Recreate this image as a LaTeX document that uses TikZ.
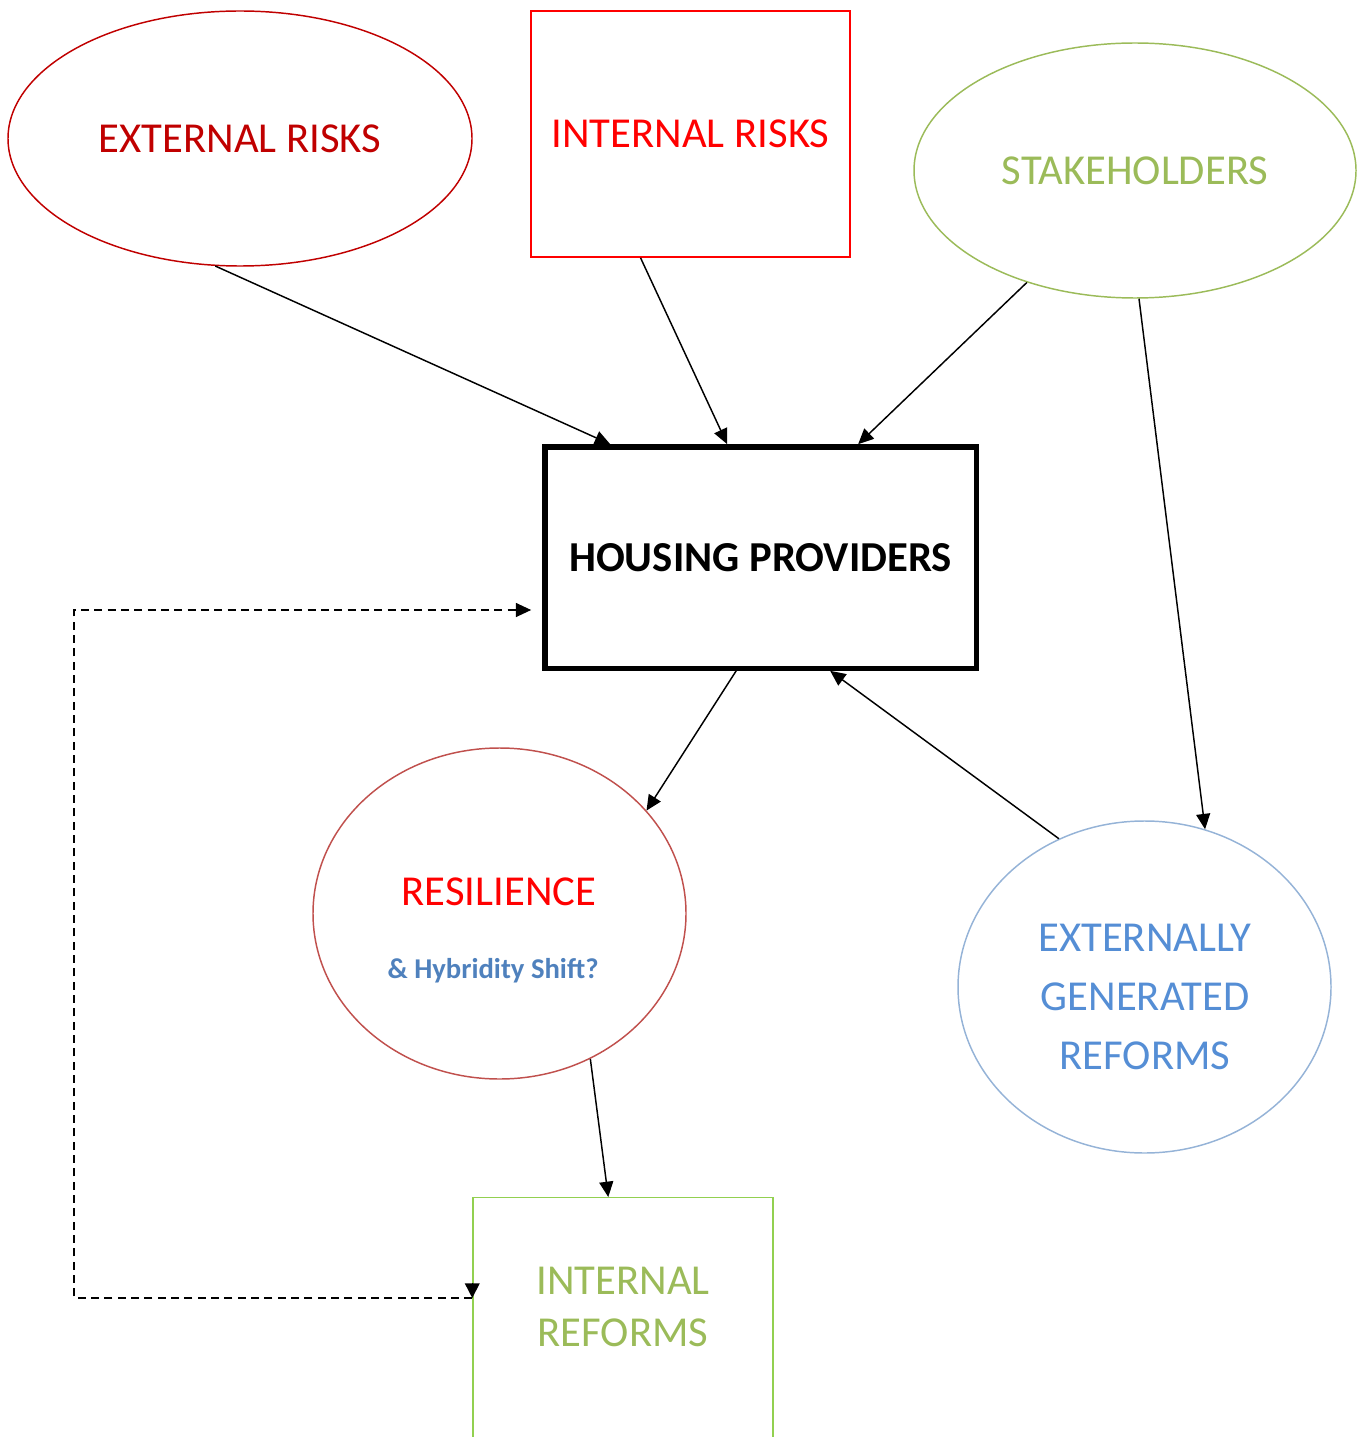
\documentclass[tikz,border=0pt]{standalone}
\usepackage{fontspec}
\setmainfont{Carlito}
\usetikzlibrary{shapes.geometric,arrows.meta,calc}
\definecolor{extred}{RGB}{192,0,0}
\definecolor{intred}{RGB}{255,0,0}
\definecolor{olive}{RGB}{155,187,89}
\definecolor{resred}{RGB}{192,80,77}
\definecolor{egrline}{RGB}{149,179,215}
\definecolor{egrtext}{RGB}{85,142,213}
\definecolor{irfline}{RGB}{146,208,80}
\definecolor{hybblue}{RGB}{79,129,189}
\tikzset{
  bigtext/.style={font=\fontsize{32}{44}\selectfont},
  oval/.style={ellipse, draw, line width=1.1pt, inner sep=0pt},
  arr/.style={line width=1.1pt, -{Triangle[length=11.5pt,width=10.5pt]}},
  dasharr/.style={line width=1.1pt, dash pattern=on 6pt off 4pt, -{Triangle[length=11.5pt,width=10.5pt]}},
}
\begin{document}
\begin{tikzpicture}[x=0.75pt,y=-0.75pt]
\useasboundingbox (0,0) rectangle (1370,1437);
\clip (0,0) rectangle (1370,1437);
% nodes
\node[oval, draw=extred, text=extred, bigtext, minimum width=348pt, minimum height=191.25pt] (ext) at (240,138.5) {EXTERNAL RISKS};
\node[draw=intred, line width=1.1pt, text=intred, bigtext, minimum width=239.25pt, minimum height=184.5pt, inner sep=0pt] (ir) at (690.5,134) {INTERNAL RISKS};
\node[oval, draw=olive, text=olive, bigtext, minimum width=331.5pt, minimum height=191.25pt] (sk) at (1135,170.5) {STAKEHOLDERS};
\node[draw=black, line width=4pt, font=\fontsize{32}{40}\selectfont\bfseries, minimum width=323.5pt, minimum height=166pt, inner sep=0pt] (hp) at (760.5,557.5) {HOUSING PROVIDERS};
\node[oval, draw=resred, minimum width=279.75pt, minimum height=248.25pt] (res) at (499.5,913.5) {};
\node[text=intred, bigtext] (reslbl) at (499,892) {RESILIENCE};
\node[text=hybblue, font=\fontsize{21.5}{26}\selectfont\bfseries] (hyb) at (493,971) {\& Hybridity Shift?};
\node[oval, draw=egrline, minimum width=279.75pt, minimum height=249pt] (egr) at (1144.5,987) {};
\node[text=egrtext, align=center, font=\fontsize{32}{44.25}\selectfont] (egrlbl) at (1145,997) {EXTERNALLY\\GENERATED\\REFORMS};
\node[draw=irfline, line width=1.1pt, minimum width=225pt, minimum height=240pt, inner sep=0pt, anchor=north] (irf) at (623,1197) {};
\node[text=olive, align=center, font=\fontsize{32}{39}\selectfont] (irflbl) at (623,1307) {INTERNAL\\REFORMS};
% connectors
\draw[arr] (ext.259) -- ($(hp.north west)+(68,0)$);
\draw[arr] ($(ir.south)+(-50,0)$) -- ($(hp.north west)+(185,0)$);
\draw[arr] (sk.226) -- ($(hp.north west)+(316,0)$);
\draw[arr] ($(sk.south)+(4,0)$) -- (egr.69);
\draw[arr] ($(hp.south west)+(194,0)$) -- (res.35);
\draw[arr] (egr.120) -- ($(hp.south west)+(288,0)$);
\draw[arr] (res.302) -- ($(irf.north west)+(136,0)$);
% dashed feedback loop
\coordinate (c1) at (74,1298);
\coordinate (c2) at (74,610);
\draw[dasharr] ($(irf.north west)+(0,101)$) -- (c1) -- (c2) -- ($(hp.west)+(-11,52.5)$);
\draw[line width=1.1pt, -{Triangle[length=11pt,width=11pt]}] ($(irf.north west)+(0,86)$) -- ($(irf.north west)+(0,101)$);
\end{tikzpicture}
\end{document}
